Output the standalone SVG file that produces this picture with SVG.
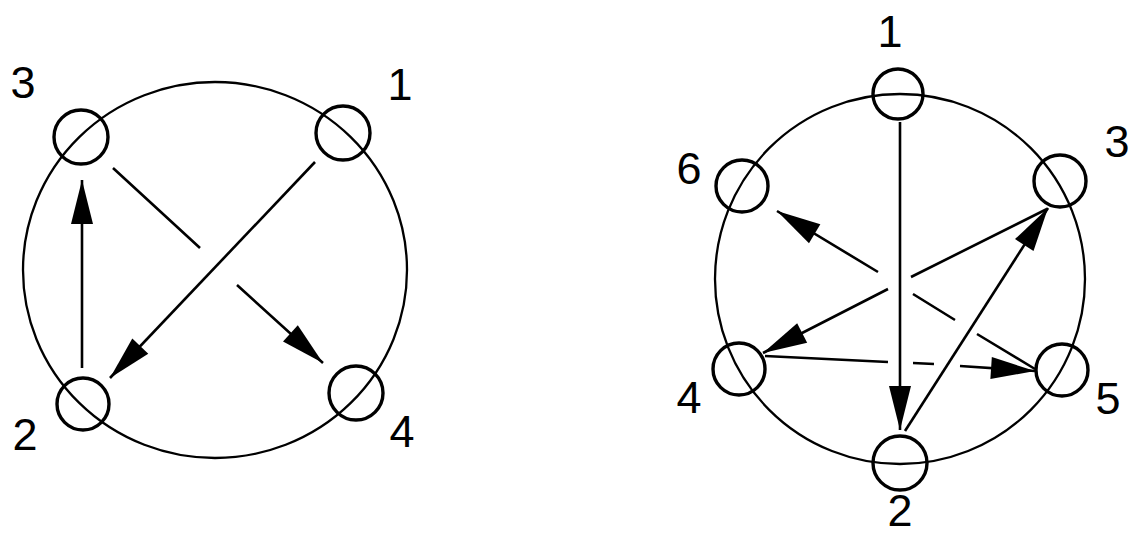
<svg xmlns="http://www.w3.org/2000/svg" width="1131" height="537" viewBox="0 0 1131 537">
<style>
.ring{fill:none;stroke:#000;stroke-width:2.3}
.bolt{fill:none;stroke:#000;stroke-width:3.4}
.line{fill:none;stroke:#000;stroke-width:2.6}
.lbl{font-family:"Liberation Sans",Arial,sans-serif;font-size:45px;fill:#000;text-anchor:middle}
</style>
<defs>
<marker id="ah" markerUnits="userSpaceOnUse" markerWidth="46" markerHeight="24" viewBox="-46 -12 46 24" refX="0" refY="0" orient="auto">
<path d="M0,0 L-44,-11 L-44,11 Z" fill="#000"/>
</marker>
</defs>
<rect width="1131" height="537" fill="#fff"/>
<g id="flange-left">
<ellipse class="ring" cx="215" cy="270" rx="192" ry="188"/>
</g>
<g id="flange-right">
<circle class="ring" cx="900" cy="279" r="185"/>
</g>
<g id="connectors">
<path class="line" d="M315,162 L110,378" marker-end="url(#ah)"/>
<path class="line" d="M82,368 L82,180" marker-end="url(#ah)"/>
<path class="line" d="M113,168 L200,248 M237,285 L323,363" marker-end="url(#ah)"/>
<path class="line" d="M900,122 L900,430" marker-end="url(#ah)"/>
<path class="line" d="M905,431 L1048,208" marker-end="url(#ah)"/>
<path class="line" d="M1047,209 L911,277 M888,289 L763,353" marker-end="url(#ah)"/>
<path class="line" d="M765,356 L888,362 M913,363 L934,364 M960,366 L1035,371" marker-end="url(#ah)"/>
<path class="line" d="M1035,369 L977,334 M955,320 L913,294 M878,272 L777,211" marker-end="url(#ah)"/>
</g>
<g id="bolt-L1"><circle class="bolt" cx="343" cy="133" r="27"/><text class="lbl" x="400" y="100">1</text></g>
<g id="bolt-L2"><circle class="bolt" cx="83" cy="404" r="26"/><text class="lbl" x="25" y="450">2</text></g>
<g id="bolt-L3"><circle class="bolt" cx="81" cy="137" r="27"/><text class="lbl" x="23" y="98">3</text></g>
<g id="bolt-L4"><circle class="bolt" cx="356" cy="393" r="27"/><text class="lbl" x="402" y="447">4</text></g>
<g id="bolt-R1"><circle class="bolt" cx="898" cy="94" r="25"/><text class="lbl" x="890" y="47">1</text></g>
<g id="bolt-R2"><circle class="bolt" cx="900" cy="463" r="27"/><text class="lbl" x="900" y="526">2</text></g>
<g id="bolt-R3"><circle class="bolt" cx="1060" cy="181" r="26"/><text class="lbl" x="1117" y="157">3</text></g>
<g id="bolt-R4"><circle class="bolt" cx="739" cy="369" r="26"/><text class="lbl" x="689" y="413">4</text></g>
<g id="bolt-R5"><circle class="bolt" cx="1062" cy="370" r="26"/><text class="lbl" x="1108" y="414">5</text></g>
<g id="bolt-R6"><circle class="bolt" cx="742" cy="186" r="26"/><text class="lbl" x="689" y="184">6</text></g>
</svg>
